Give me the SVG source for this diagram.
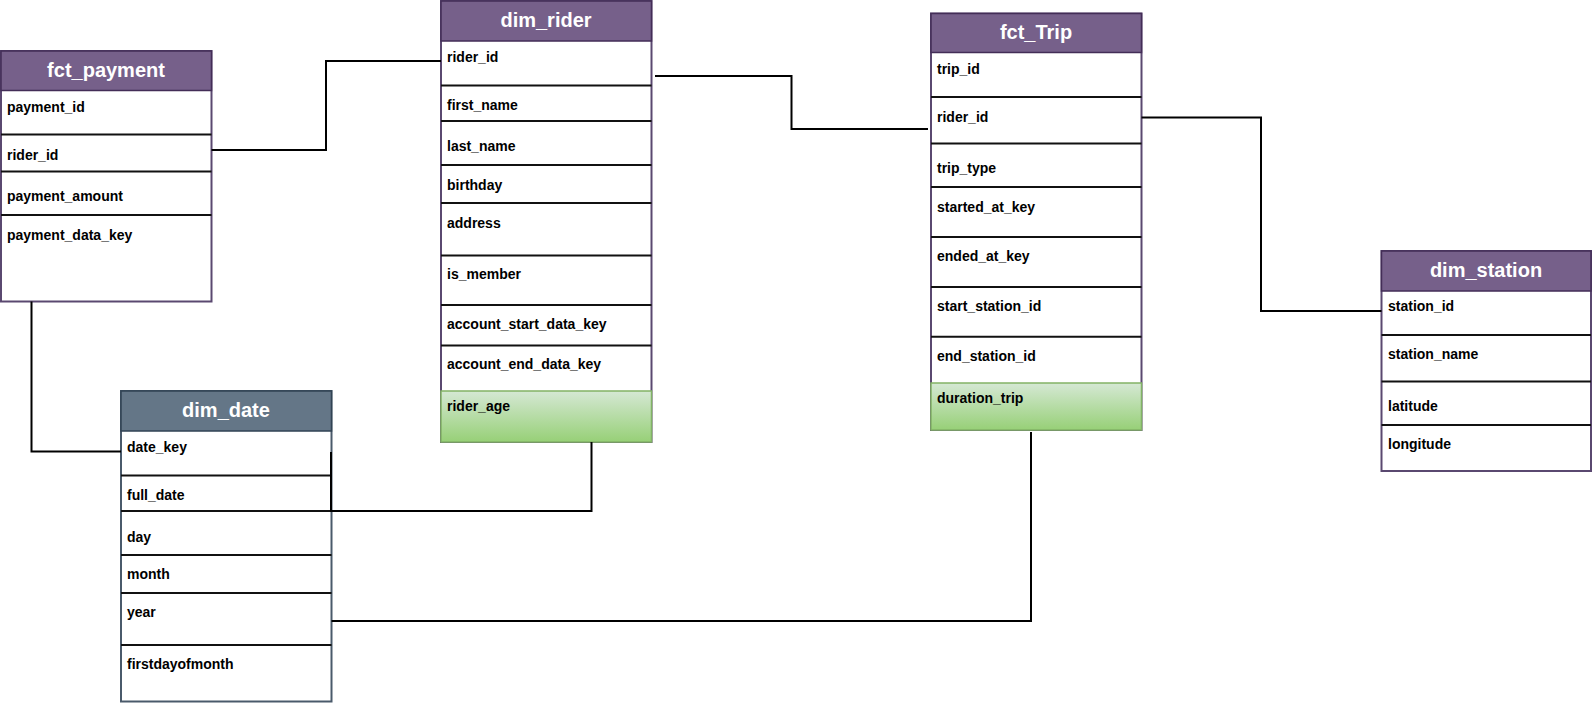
<svg xmlns="http://www.w3.org/2000/svg" width="1593" height="703" viewBox="0 0 1593 703">
<defs>
<linearGradient id="green" x1="0" y1="0" x2="0" y2="1">
<stop offset="0" stop-color="#d5e8d4"/>
<stop offset="1" stop-color="#97d077"/>
</linearGradient>
<style>
text{font-family:"Liberation Sans",Arial,Helvetica,sans-serif;font-weight:bold}
.title{font-size:20px;fill:#ffffff;text-anchor:middle}
.f{font-size:14px;fill:#000000}
.box{fill:#ffffff;stroke:#5a4870;stroke-width:2}
.hdr{fill:#76608a;stroke:#432d57;stroke-width:1.5}
.boxg{fill:#ffffff;stroke:#4a5a6b;stroke-width:2}
.hdrg{fill:#647687;stroke:#314354;stroke-width:1.5}
.sep{stroke:#111111;stroke-width:2}
.grn{fill:url(#green);stroke:#82b366;stroke-width:1.5}
.con{fill:none;stroke:#000000;stroke-width:2}
</style>
</defs>
<rect width="1593" height="703" fill="#ffffff"/>

<g id="fct_payment">
<rect class="box" x="1" y="51" width="210.5" height="250.5"/>
<rect class="hdr" x="1" y="51" width="210.5" height="39.5"/>
<line class="sep" x1="1" y1="134.5" x2="211.5" y2="134.5"/>
<line class="sep" x1="1" y1="171.5" x2="211.5" y2="171.5"/>
<line class="sep" x1="1" y1="215" x2="211.5" y2="215"/>
<text class="title" x="106" y="77">fct_payment</text>
<text class="f" x="7" y="111.5">payment_id</text>
<text class="f" x="7" y="159.5">rider_id</text>
<text class="f" x="7" y="200.5">payment_amount</text>
<text class="f" x="7" y="239.5">payment_data_key</text>
</g>

<g id="dim_rider">
<rect class="box" x="441" y="1" width="210.5" height="441"/>
<rect class="hdr" x="441" y="1" width="210.5" height="40"/>
<line class="sep" x1="441" y1="85.5" x2="651.5" y2="85.5"/>
<line class="sep" x1="441" y1="121" x2="651.5" y2="121"/>
<line class="sep" x1="441" y1="165" x2="651.5" y2="165"/>
<line class="sep" x1="441" y1="203" x2="651.5" y2="203"/>
<line class="sep" x1="441" y1="255.5" x2="651.5" y2="255.5"/>
<line class="sep" x1="441" y1="305" x2="651.5" y2="305"/>
<line class="sep" x1="441" y1="345.5" x2="651.5" y2="345.5"/>
<rect class="grn" x="441" y="391" width="210.5" height="51"/>
<text class="title" x="546" y="27">dim_rider</text>
<text class="f" x="447" y="61.5">rider_id</text>
<text class="f" x="447" y="109.5">first_name</text>
<text class="f" x="447" y="150.5">last_name</text>
<text class="f" x="447" y="189.5">birthday</text>
<text class="f" x="447" y="227.5">address</text>
<text class="f" x="447" y="278.5">is_member</text>
<text class="f" x="447" y="328.5">account_start_data_key</text>
<text class="f" x="447" y="368.5">account_end_data_key</text>
<text class="f" x="447" y="410.5">rider_age</text>
</g>

<g id="fct_Trip">
<rect class="box" x="931" y="13.5" width="210.5" height="416.5"/>
<rect class="hdr" x="931" y="13.5" width="210.5" height="39"/>
<line class="sep" x1="931" y1="97" x2="1141.5" y2="97"/>
<line class="sep" x1="931" y1="143.5" x2="1141.5" y2="143.5"/>
<line class="sep" x1="931" y1="187" x2="1141.5" y2="187"/>
<line class="sep" x1="931" y1="237" x2="1141.5" y2="237"/>
<line class="sep" x1="931" y1="287" x2="1141.5" y2="287"/>
<line class="sep" x1="931" y1="336.8" x2="1141.5" y2="336.8"/>
<rect class="grn" x="931" y="383" width="210.5" height="47"/>
<text class="title" x="1036" y="39">fct_Trip</text>
<text class="f" x="937" y="73.5">trip_id</text>
<text class="f" x="937" y="121.5">rider_id</text>
<text class="f" x="937" y="173">trip_type</text>
<text class="f" x="937" y="211.5">started_at_key</text>
<text class="f" x="937" y="261">ended_at_key</text>
<text class="f" x="937" y="310.5">start_station_id</text>
<text class="f" x="937" y="361">end_station_id</text>
<text class="f" x="937" y="402.5">duration_trip</text>
</g>

<g id="dim_station">
<rect class="box" x="1381.5" y="251" width="209.5" height="220"/>
<rect class="hdr" x="1381.5" y="251" width="209.5" height="40"/>
<line class="sep" x1="1381.5" y1="335" x2="1591" y2="335"/>
<line class="sep" x1="1381.5" y1="381.5" x2="1591" y2="381.5"/>
<line class="sep" x1="1381.5" y1="425" x2="1591" y2="425"/>
<text class="title" x="1486" y="277">dim_station</text>
<text class="f" x="1388" y="311">station_id</text>
<text class="f" x="1388" y="359">station_name</text>
<text class="f" x="1388" y="410.5">latitude</text>
<text class="f" x="1388" y="448.5">longitude</text>
</g>

<g id="dim_date">
<rect class="boxg" x="121" y="391" width="210.5" height="310.5"/>
<rect class="hdrg" x="121" y="391" width="210.5" height="40"/>
<line class="sep" x1="121" y1="475.5" x2="331.5" y2="475.5"/>
<line class="sep" x1="121" y1="511" x2="331.5" y2="511"/>
<line class="sep" x1="121" y1="555" x2="331.5" y2="555"/>
<line class="sep" x1="121" y1="593" x2="331.5" y2="593"/>
<line class="sep" x1="121" y1="645" x2="331.5" y2="645"/>
<text class="title" x="226" y="417">dim_date</text>
<text class="f" x="127" y="451.5">date_key</text>
<text class="f" x="127" y="499.5">full_date</text>
<text class="f" x="127" y="541.5">day</text>
<text class="f" x="127" y="578.5">month</text>
<text class="f" x="127" y="616.5">year</text>
<text class="f" x="127" y="668.5">firstdayofmonth</text>
</g>

<g id="connectors">
<path class="con" d="M211.5,150 H326 V61 H441"/>
<path class="con" d="M655,76 H791.5 V129 H928"/>
<path class="con" d="M1141.5,117.5 H1261 V311 H1381.5"/>
<path class="con" d="M31.5,301.5 V451.5 H121"/>
<path class="con" d="M591.5,442 V511 H331 V452"/>
<path class="con" d="M331.5,621 H1031 V432"/>
</g>
</svg>
